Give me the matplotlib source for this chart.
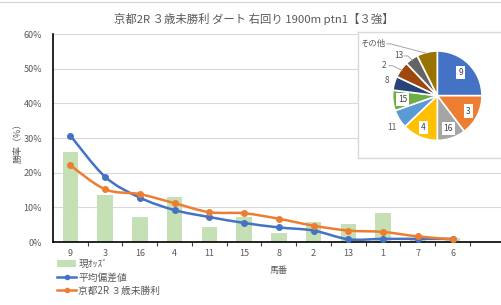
import numpy as np
import matplotlib
matplotlib.use("Agg")
import matplotlib.pyplot as plt
from matplotlib.path import Path
from matplotlib.patches import PathPatch, Patch
from matplotlib.lines import Line2D

plt.rcParams['font.family'] = ['Noto Sans CJK JP', 'DejaVu Sans']

# ---------------- data ----------------
horses = ["9", "3", "16", "4", "11", "15", "8", "2", "13", "1", "7", "6"]
odds_pct = [26.0, 13.6, 7.3, 13.0, 4.3, 7.1, 2.7, 5.9, 5.3, 8.3, 1.0, 1.2]      # 現ｵｯｽﾞ
avg_dev = [30.7, 18.8, 12.8, 9.2, 7.2, 5.5, 4.2, 3.3, 0.8, 0.9, 0.9, 0.9]        # 平均偏差値
race_win = [22.1, 15.2, 13.8, 11.2, 8.6, 8.3, 6.7, 4.7, 3.3, 2.9, 1.6, 0.8]      # 京都2R ３歳未勝利
yticks = [0, 10, 20, 30, 40, 50, 60]

pie_labels = ["9", "3", "16", "4", "11", "15", "8", "2", "13", "その他"]
pie_values = [25.0, 14.7, 10.3, 12.9, 6.7, 7.4, 5.0, 5.9, 4.7, 7.4]

title = "京都2R ３歳未勝利 ダート 右回り 1900m ptn1【３強】"
series_names = ["現ｵｯｽﾞ", "平均偏差値", "京都2R ３歳未勝利"]

# ---------------- style ----------------
W, H = 501, 305
GRAY = "#595959"
BLUE = "#4472C4"
ORANGE = "#ED7D31"
GREEN = "#C5E0B4"
pie_colors = ["#4472C4", "#ED7D31", "#A5A5A5", "#FFC000", "#5B9BD5",
              "#70AD47", "#264478", "#9E480E", "#636363", "#997300"]

fig = plt.figure(figsize=(W / 100, H / 100), dpi=100)
fig.add_artist(Line2D([0, 1], [1 - 2 / H] * 2, color="#D9D9D9", lw=1))


def fx(px):
    return px / W


def fy(py):
    return 1 - py / H


ax = fig.add_axes([fx(53), fy(242), fx(504.7 - 53), (242 - 34) / H])
x = np.arange(len(horses))

ax.bar(x, odds_pct, width=0.45, color=GREEN, zorder=2)


def smooth_path(xs, ys):
    pts = np.column_stack([xs, ys]).astype(float)
    n = len(pts)
    verts = [pts[0]]
    codes = [Path.MOVETO]
    for i in range(n - 1):
        p0 = pts[i - 1] if i > 0 else pts[i]
        p1 = pts[i]
        p2 = pts[i + 1]
        p3 = pts[i + 2] if i + 2 < n else pts[i + 1]
        c1 = p1 + (p2 - p0) / 6
        c2 = p2 - (p3 - p1) / 6
        verts += [c1, c2, p2]
        codes += [Path.CURVE4] * 3
    return Path(verts, codes)


for ys, col in [(avg_dev, BLUE), (race_win, ORANGE)]:
    ax.add_patch(PathPatch(smooth_path(x, ys), facecolor="none",
                           edgecolor=col, lw=1.8, zorder=3,
                           capstyle="round", joinstyle="round"))
    ax.plot(x, ys, "o", color=col, ms=4, zorder=4)

ax.set_xlim(-0.5, 12.5)
ax.set_ylim(0, 60)
ax.set_yticks(yticks)
ax.set_yticklabels([f"{v}%" for v in yticks])
ax.set_xticks(x)
ax.set_xticklabels(horses)
ax.set_xticks(np.arange(0.5, len(horses), 1), minor=True)
ax.tick_params(axis="x", which="major", length=0, pad=5, labelsize=6.5, labelcolor=GRAY)
ax.tick_params(axis="x", which="minor", length=3, width=0.8, color="#404040", direction="out")
ax.tick_params(axis="y", length=0, pad=8, labelsize=6.5, labelcolor=GRAY)
ax.grid(axis="y", color="#D9D9D9", lw=0.8, zorder=0)
ax.set_axisbelow(True)
for s in ["top", "right"]:
    ax.spines[s].set_visible(False)
ax.spines["left"].set_color("black")
ax.spines["bottom"].set_color("black")
ax.spines["left"].set_linewidth(1.2)
ax.spines["bottom"].set_linewidth(1.2)

fig.text(fx(254), fy(19), title, ha="center", va="center", fontsize=8.2, color=GRAY)
fig.text(fx(18), fy(141), "勝率（%）", ha="center", va="center", rotation=90,
         fontsize=6.5, color=GRAY)
fig.text(fx(279), fy(270), "馬番", ha="center", va="center", fontsize=6.5, color=GRAY)

handles = [Patch(facecolor=GREEN, edgecolor="none"),
           Line2D([], [], color=BLUE, marker="o", ms=3, lw=1.8),
           Line2D([], [], color=ORANGE, marker="o", ms=3, lw=1.8)]
fig.legend(handles, series_names, loc="upper left", bbox_to_anchor=(fx(52), fy(254)),
           frameon=False, fontsize=7, labelcolor=GRAY, handlelength=2.0,
           handleheight=0.7, handletextpad=0.2, labelspacing=0.35, borderpad=0)

# ---------------- pie inset ----------------
axb = fig.add_axes([fx(358), fy(158), fx(515 - 358), (158 - 32) / H])
axb.set_xticks([])
axb.set_yticks([])
axb.set_facecolor("white")
for s in axb.spines.values():
    s.set_color("#D9D9D9")
    s.set_linewidth(1)

cx, cy, r = 437.3, 95.7, 44.7
side = 2.5 * r
axp = fig.add_axes([fx(cx - side / 2), fy(cy + side / 2), side / W, side / H])
wedges, _ = axp.pie(pie_values, colors=pie_colors, startangle=90, counterclock=False,
                    wedgeprops=dict(edgecolor="white", linewidth=1.2))
axp.set_xlim(-1.25, 1.25)
axp.set_ylim(-1.25, 1.25)
axp.set_aspect("auto")

inside = {"9": 0.74, "3": 0.77, "16": 0.78, "4": 0.78, "15": 0.78}
outside = {"11": (-1.02, -0.71), "8": (-1.13, 0.35), "2": (-1.19, 0.67),
           "13": (-0.87, 0.89), "その他": (-1.45, 1.16)}
leaders = {"2": (-1.08, 0.67), "13": (-0.74, 0.89), "その他": (-1.13, 1.16)}
for w, lab in zip(wedges, pie_labels):
    mid = np.deg2rad((w.theta1 + w.theta2) / 2)
    ux, uy = np.cos(mid), np.sin(mid)
    if lab in inside:
        rr = inside[lab]
        axp.text(rr * ux, rr * uy, lab, ha="center", va="center", fontsize=6,
                 color="#404040",
                 bbox=dict(boxstyle="square,pad=0.25", facecolor="white", edgecolor="none"))
    else:
        tx, ty = outside[lab]
        axp.text(tx, ty, lab, ha="center", va="center", fontsize=6, color="#595959")
        if lab in leaders:
            lx, ly = leaders[lab]
            ex, ey = 0.97 * ux, 0.97 * uy
            axp.plot([lx, lx + 0.08, ex], [ly, ly, ey], color="#A6A6A6", lw=0.7,
                     clip_on=False)

fig.savefig("out.png", dpi=100)
